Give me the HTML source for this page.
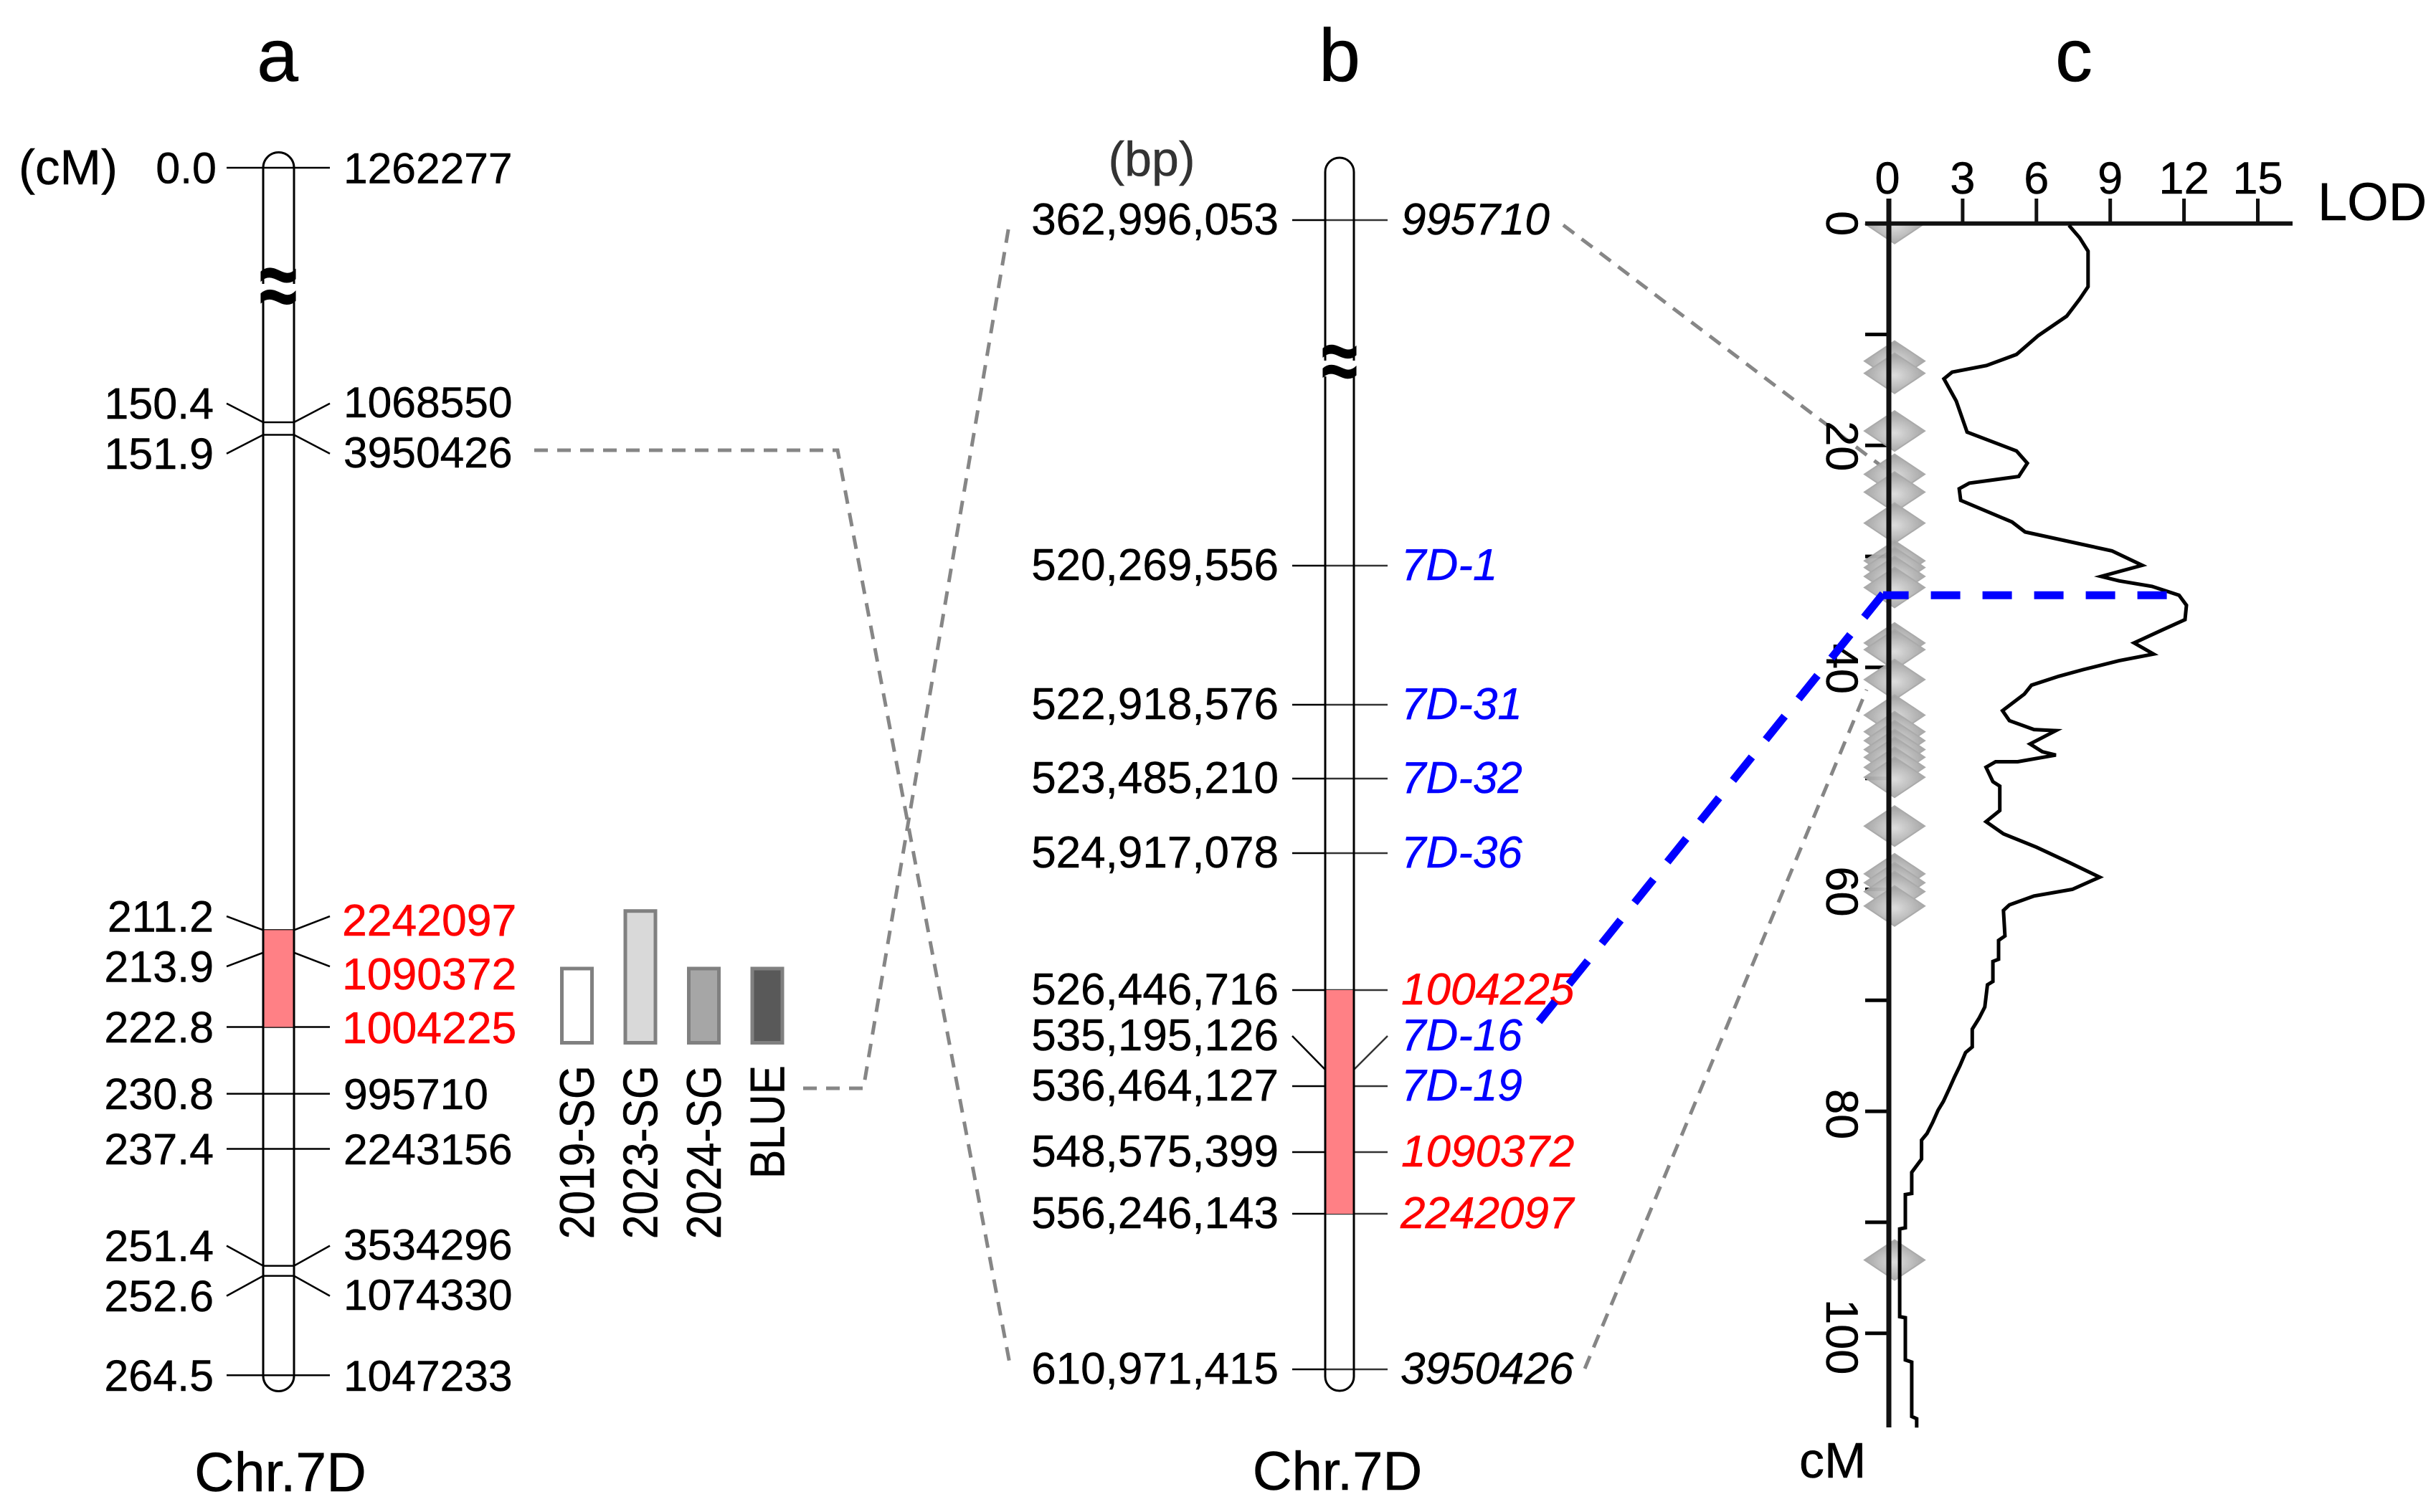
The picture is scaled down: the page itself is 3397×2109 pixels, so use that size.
<!DOCTYPE html>
<html lang="en">
<head>
<meta charset="utf-8">
<title>Chr.7D genetic map, physical map and LOD profile</title>
<style>
html,body{margin:0;padding:0;background:#fff;}
svg{display:block;}
text{font-family:"Liberation Sans",Arial,sans-serif;fill:#000;stroke:#000;stroke-width:.5px;}
</style>
</head>
<body>
<svg id="figure" xmlns="http://www.w3.org/2000/svg" width="3397" height="2109" viewBox="0 0 3397 2109">
  <defs>
    <radialGradient id="diamondFill" cx="0.5" cy="0.55" r="0.55">
      <stop offset="0" stop-color="#dcdcdc"/>
      <stop offset="1" stop-color="#9c9c9c"/>
    </radialGradient>
    <clipPath id="belowAxis"><rect x="2500" y="312" width="300" height="1700"/></clipPath>
  </defs>
  <rect width="3397" height="2109" fill="#fff"/>

  <text x="387" y="113" font-size="104" text-anchor="middle">a</text>
  <text x="1868" y="113" font-size="104" text-anchor="middle">b</text>
  <text x="2892" y="113" font-size="104" text-anchor="middle">c</text>

  <text x="26" y="257" font-size="69">(cM)</text>
  <text x="1606" y="245" font-size="68" text-anchor="middle" style="fill:#333;stroke:#333">(bp)</text>
  <text x="391" y="2080" font-size="77" text-anchor="middle">Chr.7D</text>
  <text x="1865" y="2078" font-size="76" text-anchor="middle">Chr.7D</text>

  <g fill="none" stroke="#868686" stroke-width="5" stroke-dasharray="19 13">
    <path d="M745 628 L1168 628 L1409 1907"/>
    <path d="M1120 1518 L1204 1518 L1408 309"/>
    <path d="M2180 314 L2630 655"/>
    <path d="M2210 1909 L2603 962"/>
  </g>

  <path d="M367 234 A21.5 21.5 0 0 1 410 234 L410 1919 A21.5 21.5 0 0 1 367 1919 Z" fill="#fff"/>
  <path d="M1848 240 A20 20 0 0 1 1888 240 L1888 1920 A20 20 0 0 1 1848 1920 Z" fill="#fff"/>

  <g id="marksA"></g>
  <g id="marksB"></g>

  <path d="M367 234 A21.5 21.5 0 0 1 410 234 L410 1919 A21.5 21.5 0 0 1 367 1919 Z" fill="none" stroke="#000" stroke-width="3"/>
  <path d="M1848 240 A20 20 0 0 1 1888 240 L1888 1920 A20 20 0 0 1 1848 1920 Z" fill="none" stroke="#000" stroke-width="3"/>

  <rect x="360" y="396" width="56" height="24" fill="#fff"/>
  <text transform="translate(388 442) scale(1 1.35)" font-size="96" font-weight="bold" text-anchor="middle">≈</text>
  <rect x="1842" y="503" width="52" height="22" fill="#fff"/>
  <text transform="translate(1868 544) scale(1 1.3)" font-size="92" font-weight="bold" text-anchor="middle">≈</text>

  <g id="envBars"></g>

  <g id="lodPanel"></g>
  <text x="3232" y="307" font-size="74">LOD</text>
  <text x="2509" y="2061" font-size="70">cM</text>
</svg>

<script>
// Panel a: genetic map
const mapCm = [0.0, 150.4, 151.9, 211.2, 213.9, 222.8, 230.8, 237.4, 251.4, 252.6, 264.5];
const mapIds = ['1262277', '1068550', '3950426', '2242097', '1090372', '1004225', '995710', '2243156', '3534296', '1074330', '1047233'];
const qtlStartCm = 211.2;
const qtlEndCm = 222.8;

// Environment bars next to panel a
const envNames = ['2019-SG', '2023-SG', '2024-SG', 'BLUE'];
const envSpans = [1, 1.74, 1, 1];

// Panel b: physical map
const physLabels = ['362,996,053', '520,269,556', '522,918,576', '523,485,210', '524,917,078', '526,446,716', '535,195,126', '536,464,127', '548,575,399', '556,246,143', '610,971,415'];
const physIds = ['995710', '7D-1', '7D-31', '7D-32', '7D-36', '1004225', '7D-16', '7D-19', '1090372', '2242097', '3950426'];
const qtlStartBp = 526446716;
const qtlEndBp = 556246143;

// Panel c: LOD profile
const lodTicks = [0, 3, 6, 9, 12, 15];
const cmTicks = [0, 10, 20, 30, 40, 50, 60, 70, 80, 90, 100];
const cmTickLabels = ['0', '', '20', '', '40', '', '60', '', '80', '', '100'];
const markerCm = [0, 12.4, 13.5, 18.7, 22.6, 24.2, 27.0, 30.4, 31.0, 31.8, 32.8, 37.8, 38.4, 41.1, 44.3, 45.8, 46.6, 47.4, 48.1, 49.0, 49.9, 54.3, 58.6, 59.4, 60.2, 61.5, 93.4];
const profileCm = [0.17, 1.3, 2.5, 5.7, 6.8, 8.35, 10.1, 11.8, 12.8, 13.4, 14.0, 16.0, 18.8, 20.5, 21.6, 22.8, 23.4, 23.9, 24.95, 26.9, 27.8, 29.5, 30.8, 31.8, 32.2, 32.7, 33.5, 34.4, 35.7, 36.6, 37.8, 38.8, 39.4, 40.2, 40.8, 41.6, 42.4, 43.9, 44.8, 45.6, 45.7, 46.9, 47.6, 47.9, 48.5, 48.5, 49.0, 50.3, 50.7, 52.9, 53.4, 53.9, 55.0, 56.2, 57.6, 58.9, 60.0, 60.6, 61.4, 61.9, 64.2, 64.6, 66.3, 66.5, 68.3, 68.6, 70.6, 71.6, 72.6, 74.2, 74.7, 75.9, 76.9, 78.0, 79.1, 79.9, 81.0, 82.0, 82.6, 84.3, 85.5, 87.4, 87.5, 90.5, 90.6, 98.5, 98.6, 102.4, 102.6, 107.5, 107.7, 108.5];
const profileLod = [7.32, 7.76, 8.10, 8.10, 7.76, 7.23, 6.08, 5.19, 3.97, 2.57, 2.24, 2.74, 3.18, 5.19, 5.63, 5.28, 3.27, 2.86, 2.92, 5.01, 5.54, 9.07, 10.3, 8.63, 9.36, 10.7, 11.8, 12.1, 12.04, 11.14, 9.97, 10.76, 9.36, 7.9, 6.91, 5.8, 5.51, 4.62, 4.9, 5.9, 6.79, 5.74, 6.24, 6.79, 5.24, 4.34, 3.95, 4.23, 4.51, 4.51, 4.23, 3.95, 4.66, 6.0, 7.35, 8.57, 7.46, 5.9, 4.9, 4.66, 4.72, 4.46, 4.46, 4.23, 4.23, 4.01, 3.9, 3.67, 3.39, 3.39, 3.12, 2.89, 2.67, 2.45, 2.22, 2.0, 1.78, 1.55, 1.33, 1.33, 0.93, 0.93, 0.67, 0.67, 0.44, 0.44, 0.67, 0.67, 0.93, 0.93, 1.13, 1.13];
const peakCm = 33.5;
const peakLod = 11.3;

const SVG_NS = 'http://www.w3.org/2000/svg';
function mk(parent, tag, attrs, txt) {
  const node = document.createElementNS(SVG_NS, tag);
  for (const k in attrs) node.setAttribute(k, attrs[k]);
  if (txt !== undefined) node.textContent = txt;
  parent.appendChild(node);
  return node;
}

// Axis functions
function mapY(cm) { return cm < 150.4 ? 234 + cm * 2.36 : 589 + (cm - 150.4) * 11.65; }
function parseBp(s) { return Number(s.replace(/,/g, '')); }
const physKnotBp = [362996053, 520269556, 522918576, 523485210, 524917078, 526446716, 535195126, 536464127, 548575399, 556246143, 610971415];
const physKnotPx = [307, 789, 983, 1086, 1190, 1381, 1492, 1515, 1607, 1693, 1910];
function physY(bp) {
  for (let i = 0; i < physKnotBp.length - 1; i++) {
    if (bp <= physKnotBp[i + 1] || i === physKnotBp.length - 2) {
      const t = (bp - physKnotBp[i]) / (physKnotBp[i + 1] - physKnotBp[i]);
      return physKnotPx[i] + t * (physKnotPx[i + 1] - physKnotPx[i]);
    }
  }
  return physKnotPx[0];
}
function lodX(v) { return 2634 + v * 34.3; }
function cmY(v) { return 311.7 + v * 15.48; }
function barTop(v) { return 1457 - v * 108.5; }

const redIds = mapIds.filter(function (id, i) { return mapCm[i] >= qtlStartCm && mapCm[i] <= qtlEndCm; });
function idColor(id) {
  if (id.indexOf('7D') === 0) return '#0000ff';
  if (redIds.indexOf(id) >= 0) return '#ff0000';
  return '#000000';
}

// ---------- Panel a ----------
const marksA = document.getElementById('marksA');
const aY = mapCm.map(mapY);
const aLabelY = aY.slice();
for (let i = 0; i < aY.length - 1; i++) {
  if (aY[i + 1] - aY[i] < 40) {
    const mid = (aY[i] + aY[i + 1]) / 2;
    aLabelY[i] = mid - 35;
    aLabelY[i + 1] = mid + 35;
  }
}
const redBaseY = mapY(qtlEndCm) + 1;
mapCm.forEach(function (cm, i) {
  const y = aY[i];
  const ly = aLabelY[i];
  const tick = mk(marksA, 'path', { d: 'M316 ' + ly + ' L367 ' + y + ' L410 ' + y + ' L460 ' + ly, fill: 'none', stroke: '#000', 'stroke-width': 2.5 });
  
  
  const left = mk(marksA, 'text', { x: i === 0 ? 302 : 298, y: ly + 21.5, 'font-size': 61, 'text-anchor': 'end' }, cm.toFixed(1));
  
  
  const col = idColor(mapIds[i]);
  const isRed = col === '#ff0000';
  const redRank = redIds.length - 1 - redIds.indexOf(mapIds[i]);
  const rightY = isRed ? redBaseY - redRank * 75 : (ly !== y ? ly - 2 : ly);
  const right = mk(marksA, 'text', { x: isRed ? 477 : 479, y: rightY + 21.5, 'font-size': isRed ? 62.5 : 60.5 }, mapIds[i]);
  right.style.fill = col;
  right.style.stroke = col;
  
  
});
const qtlA = mk(marksA, 'rect', { x: 367, y: mapY(qtlStartCm), width: 43, height: mapY(qtlEndCm) - mapY(qtlStartCm), fill: '#ff8085' });



// ---------- Panel b ----------
const marksB = document.getElementById('marksB');
const bY = physLabels.map(function (s) { return physY(parseBp(s)); });
physLabels.forEach(function (s, i) {
  const y = bY[i];
  const squeezed = i < bY.length - 1 && bY[i + 1] - y < 40;
  const ly = squeezed ? bY[i + 1] - 70 : y;
  const tickL = mk(marksB, 'path', { d: 'M1802 ' + ly + ' L1848 ' + y, fill: 'none', stroke: '#000', 'stroke-width': 2.5 });
  
  
  const tickR = mk(marksB, 'path', { d: 'M1888 ' + y + ' L1935 ' + ly, fill: 'none', stroke: '#333', 'stroke-width': 2.5 });
  
  
  if (!squeezed) {
    const cross = mk(marksB, 'line', { x1: 1848, x2: 1888, y1: y, y2: y, stroke: '#333', 'stroke-width': 2.5 });
    
    
  }
  const left = mk(marksB, 'text', { x: 1783, y: ly + 20, 'font-size': 62, 'text-anchor': 'end' }, s);
  
  
  const id = physIds[i];
  const right = mk(marksB, 'text', { x: id.length === 7 && id.charAt(0) !== '1' ? 1953 : 1954, y: ly + 20, 'font-size': 62, 'font-style': 'italic' }, id);
  right.style.fill = idColor(id);
  right.style.stroke = idColor(id);
  
  
});
const qtlB = mk(marksB, 'rect', { x: 1848, y: physY(qtlStartBp), width: 40, height: physY(qtlEndBp) - physY(qtlStartBp), fill: '#ff8085' });



// ---------- Environment bars ----------
const envBars = document.getElementById('envBars');
const envFills = ['#ffffff', '#d9d9d9', '#a6a6a6', '#595959'];
envNames.forEach(function (name, i) {
  const x = 781 + i * 88.5;
  const top = barTop(envSpans[i]);
  const bar = mk(envBars, 'rect', { x: x + 2.5, y: top + 2.5, width: 42, height: 1457 - top - 5, fill: envFills[i], stroke: '#808080', 'stroke-width': 5 });
  
  
  const lab = mk(envBars, 'text', { transform: 'translate(' + (x + 47) + ' 1486) rotate(-90) scale(0.89 1)', 'font-size': 68, 'text-anchor': 'end' }, name);
  
  
});

// ---------- Panel c ----------
const lodPanel = document.getElementById('lodPanel');
cmTicks.forEach(function (c, i) {
  const t = mk(lodPanel, 'line', { x1: 2601, x2: 2634, y1: cmY(c), y2: cmY(c), stroke: '#000', 'stroke-width': 5 });
  
  
  if (cmTickLabels[i]) {
    const lab = mk(lodPanel, 'text', { transform: 'translate(2547 ' + (cmY(c) + c * 0.05) + ') rotate(90)', 'font-size': 63, 'text-anchor': 'middle' }, cmTickLabels[i]);
    
    
  }
});
const diamonds = mk(lodPanel, 'g', { 'clip-path': 'url(#belowAxis)', opacity: 0.95 });


markerCm.forEach(function (c) {
  const y = cmY(c);
  const d = mk(diamonds, 'polygon', { points: '2642,' + (y - 28) + ' 2684,' + y + ' 2642,' + (y + 28) + ' 2600,' + y, fill: 'url(#diamondFill)', stroke: '#a6a6a6', 'stroke-width': 2 });
  
  
});
const xAxis = mk(lodPanel, 'line', { x1: 2601, x2: 3197, y1: 311.7, y2: 311.7, stroke: '#111', 'stroke-width': 6 });


const yAxis = mk(lodPanel, 'line', { x1: 2634, x2: 2634, y1: 277, y2: 1991, stroke: '#111', 'stroke-width': 7 });


lodTicks.forEach(function (v) {
  const t = mk(lodPanel, 'line', { x1: lodX(v), x2: lodX(v), y1: 277, y2: 311, stroke: '#111', 'stroke-width': 5 });
  
  
  const lab = mk(lodPanel, 'text', { x: lodX(v) + (v === 0 ? -2 : 0), y: 270, 'font-size': 63, 'text-anchor': 'middle' }, String(v));
  
  
});
const pts = profileCm.map(function (c, i) { return lodX(profileLod[i]).toFixed(1) + ',' + cmY(c).toFixed(1); }).join(' ');
const curve = mk(lodPanel, 'polyline', { points: pts, fill: 'none', stroke: '#000', 'stroke-width': 5, 'stroke-linejoin': 'miter' });



// Blue QTL peak guide
const peakY = cmY(peakCm);
const guideH = mk(lodPanel, 'line', { x1: lodX(peakLod), y1: peakY, x2: lodX(0) - 8, y2: peakY, stroke: '#0000ff', 'stroke-width': 11, 'stroke-dasharray': '41 31' });


const guideD = mk(lodPanel, 'line', { x1: lodX(0) - 8, y1: peakY - 2, x2: 2146, y2: 1425, stroke: '#0000ff', 'stroke-width': 11, 'stroke-dasharray': '42 31' });


</script>
</body>
</html>
